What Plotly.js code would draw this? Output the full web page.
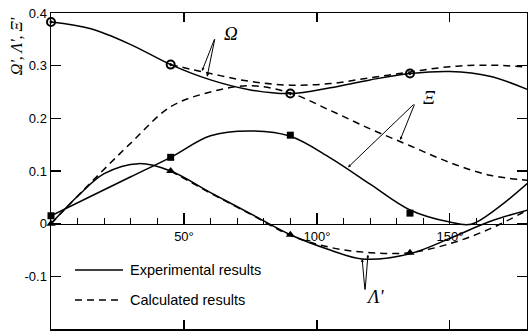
<!DOCTYPE html>
<html>
<head>
<meta charset="utf-8">
<script src="https://cdn.plot.ly/plotly-3.0.1.min.js"></script>
<style>html,body{margin:0;padding:0;background:#fff;}#chart{width:528px;height:334px;}</style>
</head>
<body>
<div id="chart"></div>
<script>
// ---- data (angle in degrees) ----
const angle = [0, 15, 30, 45, 60, 75, 90, 105, 120, 135, 150, 165, 180];
const markerAngle = [0, 45, 90, 135, 180];

// Omega
const omegaExp = [0.383, 0.370, 0.340, 0.302, 0.273, 0.254, 0.247, 0.258, 0.273, 0.285, 0.289, 0.280, 0.253];
const omegaCalcAngle = [45, 60, 75, 90, 105, 120, 135, 150, 165, 180];
const omegaCalc = [0.302, 0.285, 0.270, 0.263, 0.266, 0.277, 0.288, 0.298, 0.301, 0.297];
const omegaPts = [0.383, 0.302, 0.247, 0.285, 0.253];

// Xi
const xiExpAngle = [0, 15, 30, 45, 60, 75, 90, 105, 120, 135, 150, 158, 168, 180];
const xiExp = [0.015, 0.052, 0.089, 0.126, 0.167, 0.176, 0.166, 0.125, 0.075, 0.026, 0.003, -0.001, 0.03, 0.08];
const xiCalc = [0.0, 0.078, 0.153, 0.222, 0.250, 0.262, 0.248, 0.215, 0.180, 0.148, 0.116, 0.092, 0.082];
const xiPts = [0.015, 0.126, 0.168, 0.020, 0.080];

// Lambda
const lambdaExpAngle = [0, 10, 20, 33, 45, 60, 75, 90, 105, 117, 135, 150, 165, 180];
const lambdaExp = [0.0, 0.052, 0.095, 0.114, 0.100, 0.059, 0.019, -0.021, -0.050, -0.067, -0.057, -0.028, 0.004, 0.027];
const lambdaCalcAngle = [45, 60, 75, 90, 105, 120, 135, 150, 165, 180];
const lambdaCalc = [0.100, 0.058, 0.018, -0.022, -0.045, -0.055, -0.055, -0.038, -0.010, 0.028];
const lambdaPts = [0.0, 0.100, -0.021, -0.055, 0.027];

// axis ticks / labels
const xTickVals = [50, 100, 150];
const xTickText = ['50°', '100°', '150°'];
const yTickVals = [-0.2, -0.1, 0, 0.1, 0.2, 0.3, 0.4];
const yTickText = ['-0.2', '-0.1', '0', '0.1', '0.2', '0.3', '0.4'];
const legendLabels = ['Experimental results', 'Calculated results'];

// ---- styles ----
const K = '#000';
const solid = {color: K, width: 1.5, shape: 'spline', smoothing: 1};
const dashed = {color: K, width: 1.5, shape: 'spline', smoothing: 1, dash: '7px,5px'};

const traces = [
  {x: angle, y: omegaExp, mode: 'lines', line: solid},
  {x: omegaCalcAngle, y: omegaCalc, mode: 'lines', line: dashed},
  {x: xiExpAngle, y: xiExp, mode: 'lines', line: solid},
  {x: angle, y: xiCalc, mode: 'lines', line: dashed},
  {x: lambdaExpAngle, y: lambdaExp, mode: 'lines', line: solid},
  {x: lambdaCalcAngle, y: lambdaCalc, mode: 'lines', line: dashed},
  {x: markerAngle, y: omegaPts, mode: 'markers', cliponaxis: false,
   marker: {symbol: 'circle-open-dot', size: 8, color: K, line: {color: K, width: 2}}},
  {x: markerAngle, y: xiPts, mode: 'markers', cliponaxis: false,
   marker: {symbol: 'square', size: 7, color: K}},
  {x: markerAngle, y: lambdaPts, mode: 'markers', cliponaxis: false,
   marker: {symbol: 'triangle-up', size: 8, color: K}},
  // empty trace so the frame axis (x2) is drawn
  {x: [], y: [], xaxis: 'x2', yaxis: 'y', mode: 'lines', hoverinfo: 'skip'}
];

const tickFont = {family: 'Liberation Sans, Arial, sans-serif', size: 13, color: K};
const greek = {family: 'Liberation Serif, serif', size: 19, color: K};
const legFont = {family: 'Liberation Sans, Arial, sans-serif', size: 14.5, color: K};

function arrow(x, y, ax, ay) {
  return {x: x, y: y, ax: ax, ay: ay, xref: 'x', yref: 'y', axref: 'x', ayref: 'y',
          text: '', showarrow: true, arrowhead: 2, arrowsize: 0.6, arrowwidth: 1, arrowcolor: K};
}

const layout = {
  width: 528, height: 334,
  margin: {l: 51, r: 1, t: 13, b: 5},
  paper_bgcolor: '#fff', plot_bgcolor: '#fff',
  showlegend: false,
  font: tickFont,
  xaxis: {
    range: [0, 179], anchor: 'free', position: 1/3,
    showline: true, linecolor: K, linewidth: 1.5, showgrid: false, zeroline: false,
    tickmode: 'array', tickvals: xTickVals, ticktext: xTickText,
    ticks: 'inside', ticklen: 11, tickwidth: 1.2, tickcolor: K, tickfont: tickFont,
    minor: {tickmode: 'linear', tick0: 0, dtick: 10, ticks: 'inside', ticklen: 6, tickwidth: 1, tickcolor: K, showgrid: false}
  },
  xaxis2: {
    range: [0, 179], overlaying: 'x', side: 'bottom', anchor: 'y', mirror: 'ticks',
    showline: true, linecolor: K, linewidth: 1.5, showgrid: false, zeroline: false,
    tickmode: 'array', tickvals: xTickVals, ticks: 'inside', ticklen: 9, tickwidth: 1.2, tickcolor: K,
    showticklabels: false
  },
  yaxis: {
    range: [-0.2, 0.4], showline: true, linecolor: K, linewidth: 1.5, mirror: 'ticks',
    showgrid: false, zeroline: false,
    tickmode: 'array', tickvals: yTickVals, ticktext: yTickText,
    ticks: 'inside', ticklen: 10, tickwidth: 1.2, tickcolor: K, tickfont: tickFont
  },
  shapes: [
    {type: 'line', xref: 'paper', yref: 'paper', x0: 0.0504, x1: 0.1513, y0: 0.1867, y1: 0.1867,
     line: {color: K, width: 1.5}},
    {type: 'line', xref: 'paper', yref: 'paper', x0: 0.0504, x1: 0.1513, y0: 0.0918, y1: 0.0918,
     line: {color: K, width: 1.5, dash: '7px,5px'}}
  ],
  annotations: [
    {xref: 'paper', yref: 'paper', x: 0.1618, y: 0.1867, xanchor: 'left', yanchor: 'middle',
     text: legendLabels[0], showarrow: false, font: legFont},
    {xref: 'paper', yref: 'paper', x: 0.1618, y: 0.0918, xanchor: 'left', yanchor: 'middle',
     text: legendLabels[1], showarrow: false, font: legFont},
    {xref: 'paper', yref: 'paper', x: -0.0735, y: 0.895, textangle: -90, xanchor: 'center', yanchor: 'middle',
     text: "<i>Ω', Λ', Ξ'</i>", showarrow: false, font: {family: 'Liberation Serif, serif', size: 16, color: K}},
    {x: 67.7, y: 0.362, xref: 'x', yref: 'y', text: '<i>Ω</i>', showarrow: false, font: greek},
    {x: 142.5, y: 0.240, xref: 'x', yref: 'y', text: '<i>Ξ</i>', showarrow: false, font: greek},
    {x: 121.8, y: -0.139, xref: 'x', yref: 'y', text: "<i>Λ'</i>", showarrow: false, font: greek},
    arrow(56.8, 0.290, 61.7, 0.353),
    arrow(58.7, 0.279, 61.7, 0.353),
    arrow(131.3, 0.159, 136.9, 0.229),
    arrow(111.7, 0.107, 136.9, 0.229),
    arrow(117.0, -0.067, 118.1, -0.128),
    arrow(119.2, -0.059, 118.1, -0.128)
  ]
};

Plotly.newPlot('chart', traces, layout, {staticPlot: true, displayModeBar: false});
</script>
</body>
</html>
